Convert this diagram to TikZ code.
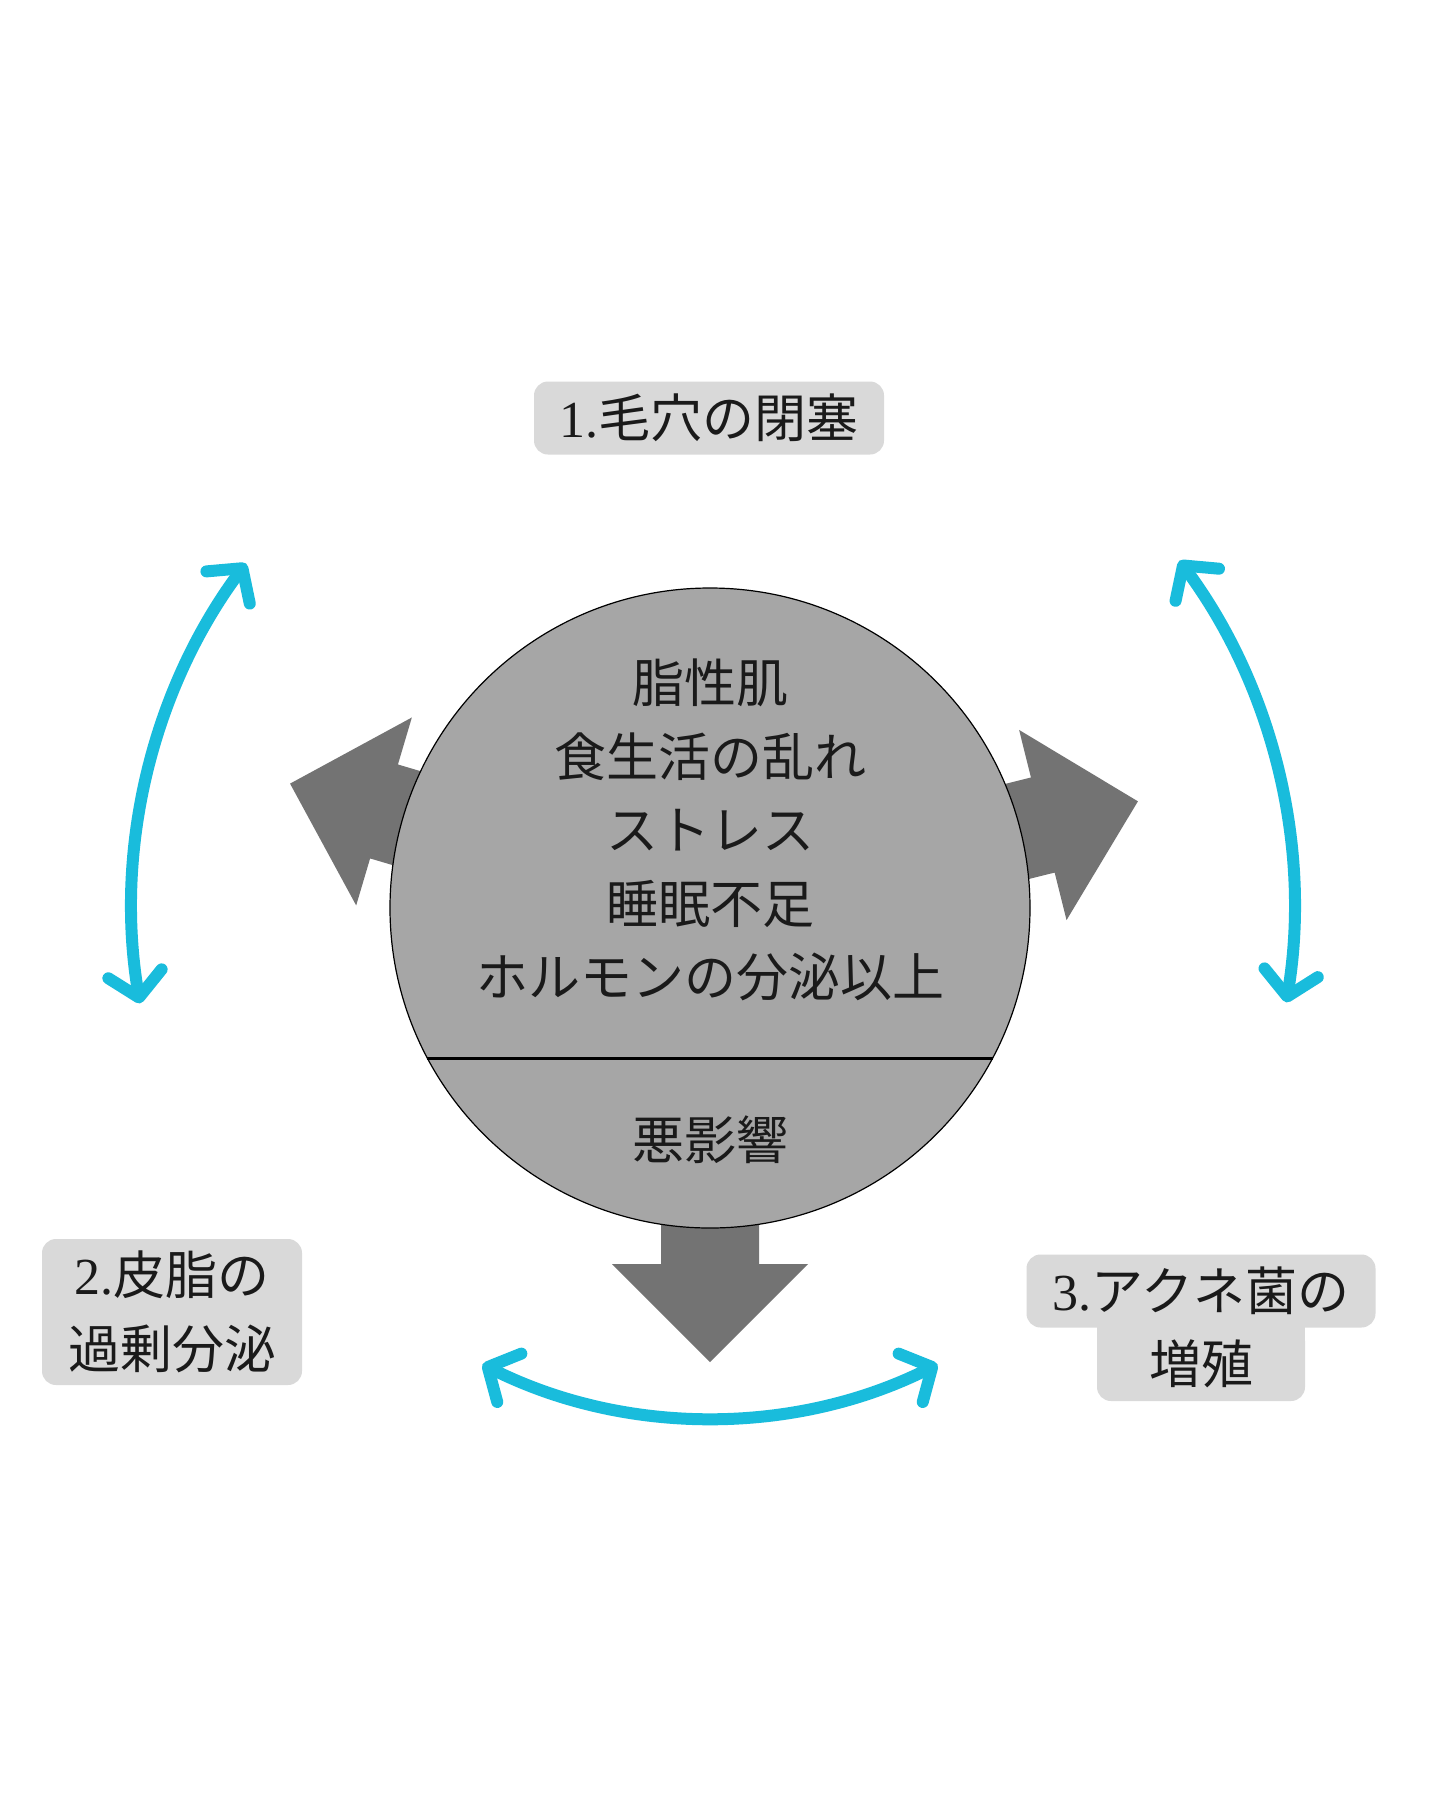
\documentclass[tikz,border=0pt]{standalone}
\usepackage{fontspec}
\setmainfont{Noto Sans CJK JP}
\newfontfamily\numfont{Liberation Serif}
\usetikzlibrary{arrows.meta}

\definecolor{cyanarc}{HTML}{19BCDC}
\definecolor{arrowgray}{HTML}{737373}
\definecolor{coregray}{HTML}{A6A6A6}
\definecolor{taggray}{HTML}{D9D9D9}
\definecolor{inkgray}{HTML}{1A1A1A}

\begin{document}
\begin{tikzpicture}[
        x=1pt, y=-1pt,
        tag/.style={rectangle, rounded corners=14pt, fill=taggray, text=inkgray,
                    font=\fontsize{52}{73.5}\selectfont, align=center,
                    inner sep=0pt, minimum height=73pt},
        txt/.style={text=inkgray, font=\fontsize{52}{73.5}\selectfont,
                    align=center, inner sep=0pt},
        blockarr/.style={fill=arrowgray},
        cyc/.style={{Straight Barb[length=24pt, width=54pt, round]}-{Straight Barb[length=24pt, width=54pt, round]},
                    line width=12pt, cyanarc},
    ]
    \fill[white] (0,0) rectangle (1440,1800);
    \useasboundingbox (0,0) rectangle (1440,1800);
    \coordinate (mid) at (710,908);

    % block arrows, behind the circle
    \foreach \ang/\tip in {163.5/438, 14/441, -90/454}
        \fill[blockarr, shift={(mid)}, rotate=\ang]
            (250,-49) -- (\tip-98,-49) -- (\tip-98,-98) -- (\tip,0)
            -- (\tip-98,98) -- (\tip-98,49) -- (250,49) -- cycle;

    \node[circle, draw=black, line width=1.2pt, fill=coregray,
          minimum size=640pt, inner sep=0pt] (core) at (mid) {};
    \draw[line width=3.5pt] (core.-152) -- (core.-28);

    \node[txt] (factors) at (710,830)
        {脂性肌\\食生活の乱れ\\ストレス\\睡眠不足\\ホルモンの分泌以上};
    \node[txt] (effect) at (710,1140) {悪影響};

    % labels
    \node[tag, minimum width=350pt] (pore) at (709,418) {{\numfont 1.}毛穴の閉塞};
    \node[tag, minimum width=260pt, minimum height=146pt] (sebum) at (172,1312)
        {{\numfont 2.}皮脂の\\過剰分泌};
    \node[tag, minimum width=349pt] (acne) at (1201,1291) {{\numfont 3.}アクネ菌の};
    \node[tag, minimum width=208pt, minimum height=74pt] (acnetail) at (1201,1364) {};
    \fill[taggray] ([yshift=4pt]acnetail.north west) rectangle ([yshift=-16pt]acnetail.north east);
    \node[txt] (acnetext) at (acnetail) {増殖};

    % cycle arrows
    \draw[cyc] (mid) ++(-143.4:578) arc[start angle=-143.4, end angle=-189.5, radius=578];
    \draw[cyc] (mid) ++(-36.5:584) arc[start angle=-36.5, end angle=9.3, radius=584];
    \draw[cyc] (mid) ++(-243.5:510) arc[start angle=-243.5, end angle=-296.5, radius=510];
\end{tikzpicture}
\end{document}
